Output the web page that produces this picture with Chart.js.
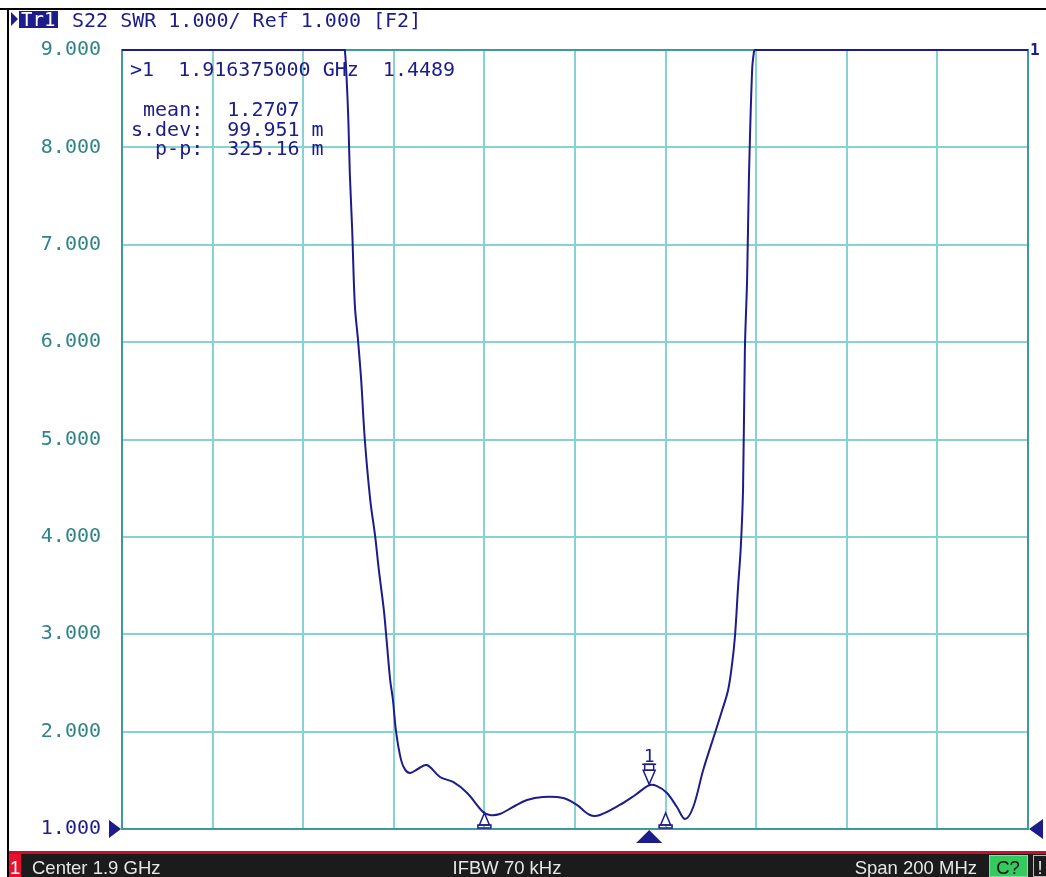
<!DOCTYPE html>
<html>
<head>
<meta charset="utf-8">
<script src="https://cdn.jsdelivr.net/npm/chart.js@4.4.1/dist/chart.umd.min.js"></script>
<style>
  html, body { margin: 0; padding: 0; background: #fff; overflow: hidden; }
  canvas { display: block; }
</style>
</head>
<body>
<canvas id="canvas" width="1046" height="877"></canvas>
<script>
  // Trace data: S22 SWR vs frequency (MHz)
  const freqMHz = [
    1800, 1848.9, 1849.2, 1849.7, 1850.0, 1850.3, 1850.8, 1851.4, 1852.1, 1852.8, 1853.6,
    1854.8, 1855.9, 1856.7, 1857.8, 1858.3, 1859.2, 1859.8, 1860.5, 1861.6, 1862.5,
    1863.6, 1865.3, 1867.3, 1870.2, 1873.1, 1876.2, 1879.7, 1881.2, 1883.4, 1886.3,
    1889.4, 1892.9, 1897.4, 1900.4, 1903.3, 1905.5, 1909.9, 1913.3, 1916.375, 1918.1,
    1920.3, 1922.5, 1924.3, 1926.1, 1928.3, 1930.9, 1932.5, 1933.8, 1934.7, 1935.3,
    1936.0, 1936.6, 1937.1, 1937.5, 1938.0, 1938.4, 1939.1, 1939.5, 1939.7, 1940.1, 2000
  ];
  const swr = [
    9.0, 9.0, 9.0, 8.59, 8.23, 7.72, 7.17, 6.38, 6.02, 5.61, 5.0,
    4.38, 4.0, 3.66, 3.25, 3.0, 2.53, 2.33, 2.0, 1.71, 1.61,
    1.575, 1.616, 1.657, 1.534, 1.483, 1.37, 1.175, 1.144, 1.154, 1.226,
    1.298, 1.329, 1.318, 1.247, 1.144, 1.144, 1.247, 1.349, 1.4489, 1.44,
    1.37, 1.226, 1.103, 1.226, 1.606, 1.986, 2.222, 2.427, 2.705, 2.972,
    3.486, 3.896, 4.502, 5.919, 6.659, 7.696, 8.795, 8.98, 9.0, 9.0, 9.0
  ];

  // Axis setup
  const xMin = 1800, xMax = 2000, xStep = 20;
  const yMin = 1, yMax = 9, yStep = 1;

  // Marker + statistics
  const markerFreq = 1916.375;
  const markerValue = 1.4489;
  const statsStart = 1880;
  const statsStop = 1920;
  const headerText = 'S22 SWR 1.000/ Ref 1.000 [F2]';
  const markerText = '>1  1.916375000 GHz  1.4489';
  const statsLines = [' mean:  1.2707', 's.dev:  99.951 m', '  p-p:  325.16 m'];
  const statusLeft = 'Center 1.9 GHz';
  const statusMid = 'IFBW 70 kHz';
  const statusRight = 'Span 200 MHz';

  const NAVY = '#1c1c8a';
  const TEAL_TEXT = '#2f8585';
  const GRID = '#86d3d3';
  const FRAME = '#3c9a9a';
  const MONO = '"DejaVu Sans Mono", monospace';

  const overlay = {
    id: 'overlay',
    beforeDraw(chart) {
      const c = chart.ctx;
      c.save();
      c.fillStyle = '#fff';
      c.fillRect(0, 0, chart.width, chart.height);
      c.restore();
    },
    beforeDatasetsDraw(chart) {
      // darker frame round the plot, under the trace
      const c = chart.ctx, a = chart.chartArea;
      c.save();
      c.strokeStyle = FRAME;
      c.lineWidth = 2;
      c.strokeRect(a.left, a.top, a.right - a.left, a.bottom - a.top);
      c.restore();
    },
    afterDraw(chart) {
      const c = chart.ctx;
      const a = chart.chartArea;
      const xs = chart.scales.x, ys = chart.scales.y;
      c.save();

      // outer black frame lines
      c.fillStyle = '#000';
      c.fillRect(0, 8, chart.width, 2);
      c.fillRect(7, 8, 2, chart.height - 8);

      // header
      c.fillStyle = NAVY;
      c.beginPath();
      c.moveTo(11, 12); c.lineTo(18, 19); c.lineTo(11, 26); c.closePath();
      c.fill();
      c.fillRect(19, 11, 39, 17);
      c.font = '19px ' + MONO;
      c.textBaseline = 'alphabetic';
      c.fillStyle = '#fff';
      c.fillText('Tr1', 21, 26);
      c.fillStyle = NAVY;
      c.font = '20px ' + MONO;
      c.fillText(headerText, 72, 27);

      // marker readout + statistics
      c.fillText(markerText, 130, 76);
      statsLines.forEach((s, i) => c.fillText(s, 131, 116 + i * 19.5));

      // trace end label
      c.font = 'bold 16px ' + MONO;
      c.fillText('1', 1030, 55);

      // stats range markers
      [statsStart, statsStop].forEach(f => {
        const px = xs.getPixelForValue(f);
        c.fillStyle = '#fff';
        c.strokeStyle = NAVY;
        c.lineWidth = 1.5;
        c.beginPath();
        c.moveTo(px, 813); c.lineTo(px - 5, 825); c.lineTo(px + 5, 825); c.closePath();
        c.fill(); c.stroke();
        c.strokeRect(px - 6.5, 825, 13, 3);
      });

      // marker 1
      const mx = xs.getPixelForValue(markerFreq);
      const my = ys.getPixelForValue(markerValue);
      c.strokeStyle = NAVY;
      c.fillStyle = NAVY;
      c.lineWidth = 1.5;
      c.beginPath();
      c.moveTo(mx - 7, my - 21); c.lineTo(mx + 7, my - 21);
      c.stroke();
      c.strokeRect(mx - 4.5, my - 21, 9, 6);
      c.beginPath();
      c.moveTo(mx - 6, my - 15); c.lineTo(mx + 6, my - 15); c.lineTo(mx, my - 1); c.closePath();
      c.fillStyle = '#fff';
      c.fill(); c.stroke();
      c.fillStyle = NAVY;
      c.font = '18px ' + MONO;
      c.textAlign = 'center';
      c.fillText('1', mx, my - 23);
      c.textAlign = 'left';

      // active marker triangle below axis
      c.beginPath();
      c.moveTo(mx, a.bottom + 1); c.lineTo(mx + 13, a.bottom + 14); c.lineTo(mx - 13, a.bottom + 14); c.closePath();
      c.fill();

      // reference level triangles
      const ry = ys.getPixelForValue(1);
      c.beginPath();
      c.moveTo(a.left - 1, ry); c.lineTo(a.left - 13, ry - 9); c.lineTo(a.left - 13, ry + 9); c.closePath();
      c.fill();
      c.beginPath();
      c.moveTo(a.right + 1, ry); c.lineTo(a.right + 15, ry - 10); c.lineTo(a.right + 15, ry + 10); c.closePath();
      c.fill();

      // status bar
      c.fillStyle = '#c8102e';
      c.fillRect(9, 851, chart.width - 9, 3);
      c.fillStyle = '#1b1b1b';
      c.fillRect(9, 854, chart.width - 9, 23);
      c.fillStyle = '#e8112d';
      c.fillRect(9, 854, 12, 23);
      c.fillStyle = '#fff';
      c.font = '18.5px "Liberation Sans", sans-serif';
      c.fillText('1', 10, 874);
      c.fillStyle = '#e6e6e6';
      c.fillText(statusLeft, 32, 874);
      c.textAlign = 'center';
      c.fillText(statusMid, 507, 874);
      c.textAlign = 'right';
      c.fillText(statusRight, 977, 874);
      c.fillStyle = '#35c95e';
      c.fillRect(989, 855, 39, 22);
      c.strokeStyle = '#7fe39a';
      c.lineWidth = 1;
      c.strokeRect(989.5, 855.5, 38, 21);
      c.fillStyle = '#111';
      c.textAlign = 'center';
      c.fillText('C?', 1008, 874);
      c.strokeStyle = '#bbb';
      c.strokeRect(1033.5, 855.5, 14, 21);
      c.fillStyle = '#eee';
      c.fillText('!', 1040, 874);

      c.restore();
    }
  };

  const chart = new Chart(document.getElementById('canvas'), {
    type: 'line',
    data: {
      datasets: [{
        data: freqMHz.map((f, i) => ({ x: f, y: swr[i] })),
        borderColor: NAVY,
        borderWidth: 2,
        pointRadius: 0,
        fill: false,
        tension: 0.35,
        clip: false
      }]
    },
    options: {
      responsive: false,
      animation: false,
      events: [],
      layout: { padding: { left: 0, top: 50, right: 18, bottom: 48 } },
      plugins: { legend: { display: false }, tooltip: { enabled: false } },
      scales: {
        x: {
          type: 'linear',
          min: xMin, max: xMax,
          ticks: { display: false, stepSize: xStep },
          grid: { color: GRID, lineWidth: 2, drawTicks: false },
          border: { display: true, color: FRAME, width: 2 },
          afterFit: s => { s.height = 0; }
        },
        y: {
          min: yMin, max: yMax,
          ticks: {
            stepSize: yStep,
            padding: 21,
            font: { family: 'DejaVu Sans Mono', size: 20 },
            color: ctx => ctx.tick.value === 1 ? NAVY : TEAL_TEXT,
            callback: v => v.toFixed(3)
          },
          grid: { color: GRID, lineWidth: 2, drawTicks: false },
          border: { display: true, color: FRAME, width: 2 },
          afterFit: s => { s.width = 122; }
        }
      }
    },
    plugins: [overlay]
  });
</script>
</body>
</html>
